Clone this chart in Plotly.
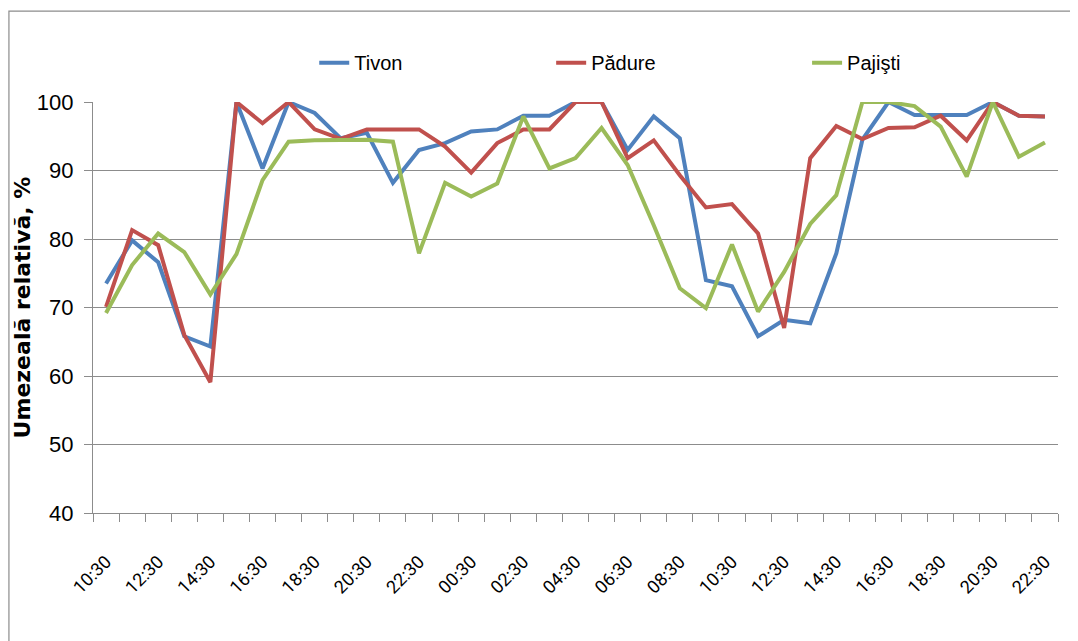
import plotly.graph_objects as go

categories = ["10:30", "11:30", "12:30", "13:30", "14:30", "15:30", "16:30", "17:30",
              "18:30", "19:30", "20:30", "21:30", "22:30", "23:30", "00:30", "01:30",
              "02:30", "03:30", "04:30", "05:30", "06:30", "07:30", "08:30", "09:30",
              "10:30", "11:30", "12:30", "13:30", "14:30", "15:30", "16:30", "17:30",
              "18:30", "19:30", "20:30", "21:30", "22:30"]

tivon = [73.5, 79.8, 76.6, 65.8, 64.3, 100, 90.3, 100, 98.4, 94.7, 95.5, 88.2, 93, 94,
         95.7, 96, 98, 98, 100, 100, 93, 97.9, 94.7, 74, 73.1, 65.8, 68.2, 67.7, 77.9,
         94.5, 100, 98.1, 98.1, 98.1, 100, 98, 97.9]
padure = [70.1, 81.3, 79.1, 66, 59.1, 100, 96.9, 100, 96, 94.6, 96, 96, 96, 93.5,
          89.7, 94, 96, 96, 100, 100, 91.8, 94.4, 89.3, 84.6, 85.1, 80.8, 67, 91.8,
          96.5, 94.6, 96.2, 96.3, 98, 94.4, 100, 98, 97.9]
pajisti = [69.2, 76.2, 80.8, 78.1, 71.9, 77.8, 88.6, 94.2, 94.4, 94.5, 94.5, 94.2, 77.9,
           88.2, 86.2, 88.1, 97.9, 90.3, 91.8, 96.2, 90.8, 82, 72.8, 69.9, 79.2, 69.4,
           75.2, 82.2, 86.4, 100, 100, 99.4, 96.4, 89.1, 100, 92, 94.1]

series_names = ["Tivon", "Pădure", "Pajişti"]
series_values = [tivon, padure, pajisti]
series_colors = ["#4F81BD", "#C0504D", "#9BBB59"]

y_ticks = [40, 50, 60, 70, 80, 90, 100]

x_idx = list(range(len(categories)))
label_idx = x_idx[::2]
label_text = [categories[i] for i in label_idx]

# figure is placed 8px inside the page (body margin)
W, H = 1070, 633
L, R, T, B = 84.7, 20, 94.3, 128
pw = W - L - R
ph = H - T - B

def px2paper_x(px):
    return (px - L) / pw

def py2paper_y(py):
    return (H - B - py) / ph

legend_ids = ["legend", "legend2", "legend3"]
legend_left_px = [306, 543, 799]

fig = go.Figure()
for name, vals, col, lid in zip(series_names, series_values, series_colors, legend_ids):
    fig.add_trace(go.Scatter(x=x_idx, y=vals, mode="lines", name=name, legend=lid,
                             line=dict(color=col, width=4), cliponaxis=False))

fig.add_shape(type="rect", xref="paper", yref="paper",
              x0=px2paper_x(0.6), x1=px2paper_x(1090),
              y0=py2paper_y(660), y1=py2paper_y(3.5),
              line=dict(color="#8c8c8c", width=1.2), fillcolor="rgba(0,0,0,0)", layer="below")

legend_common = dict(orientation="h", xanchor="left", yanchor="middle",
                     y=py2paper_y(55),
                     font=dict(family="Liberation Sans", size=20, color="black"),
                     bgcolor="rgba(0,0,0,0)")
legend_layout = {lid: dict(x=px2paper_x(lx), **legend_common)
                 for lid, lx in zip(legend_ids, legend_left_px)}

fig.update_layout(
    width=W, height=H,
    margin=dict(l=L, r=R, t=T, b=B),
    paper_bgcolor="white", plot_bgcolor="white",
    showlegend=True,
    **legend_layout,
    xaxis=dict(range=[-0.5, len(categories) - 0.5], tickmode="array",
               tickvals=label_idx, ticktext=label_text, ticks="",
               tickangle=-45, showgrid=False, zeroline=False,
               showline=True, linecolor="#8c8c8c", linewidth=1.2,
               ticklabelstandoff=30,
               tickfont=dict(family="Roboto", size=18, color="black"),
               minor=dict(tickmode="array",
                          tickvals=[i - 0.5 for i in range(len(categories) + 1)],
                          ticks="outside", ticklen=8, tickcolor="#8c8c8c", tickwidth=1.2,
                          showgrid=False)),
    yaxis=dict(range=[40, 100], tickmode="array", tickvals=y_ticks,
               ticks="outside", ticklen=8, tickcolor="#8c8c8c", tickwidth=1.2,
               showgrid=True, gridcolor="#8c8c8c", gridwidth=1.2, zeroline=False,
               showline=True, linecolor="#8c8c8c", linewidth=1.2,
               ticklabelstandoff=6,
               tickfont=dict(family="Liberation Sans", size=22, color="black"),
               title=dict(text="<b>Umezeală relativă, %</b>", standoff=0,
                          font=dict(family="DejaVu Sans", size=22, color="black"))),
)

fig.write_html("out.html")
